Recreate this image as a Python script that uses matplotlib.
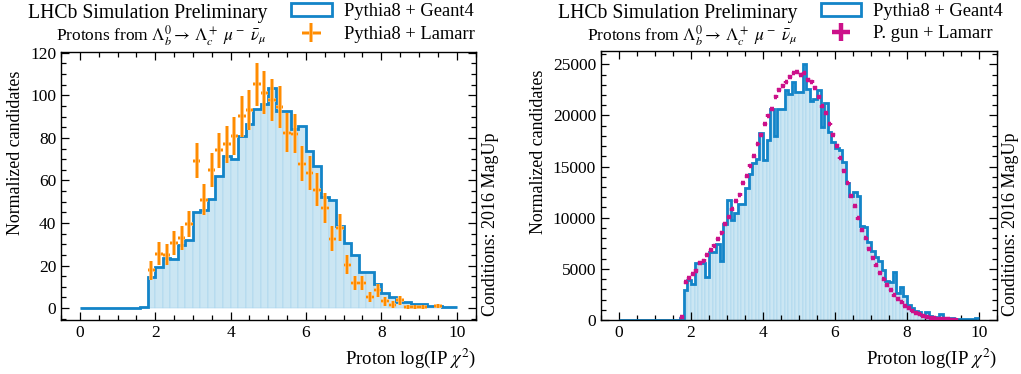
import numpy as np
import matplotlib
matplotlib.use("Agg")
import matplotlib.pyplot as plt
from matplotlib.patches import Rectangle
from matplotlib.ticker import MultipleLocator
import matplotlib.patheffects as pe

plt.rcParams['font.family'] = ['Liberation Serif', 'DejaVu Serif']
plt.rcParams['mathtext.fontset'] = 'stix'

# ---------------- data: left panel (Pythia8 + Geant4 vs Pythia8 + Lamarr) ----------------
left_range = (0.0, 10.0)
left_nbins = 50
left_geant4 = [0, 0, 0, 0, 0, 0, 0, 0,
               0.5, 14.5, 19.2, 23.4, 23.3, 29.6, 32.0, 45.2, 46.1, 51.1, 62.3,
               71.5, 69.9, 80.9, 86.7, 93.5, 96.0, 103.4, 92.5, 92.4, 84.2,
               85.8, 73.8, 67.0, 52.4, 51.0, 38.5, 30.4, 24.9, 17.0, 17.0,
               11.5, 7.0, 5.2, 3.0, 3.0, 1.9, 1.9, 1.0, 1.0, 0.3, 0.6]
lamarr_x = [1.9, 2.1, 2.3, 2.5, 2.7, 2.9, 3.1, 3.3, 3.5, 3.7, 3.9, 4.1, 4.3,
            4.5, 4.7, 4.9, 5.1, 5.3, 5.5, 5.7, 5.9, 6.1, 6.3, 6.5, 6.7, 6.9,
            7.1, 7.3, 7.5, 7.7, 7.9, 8.1, 8.3, 8.5, 8.7, 8.9, 9.1, 9.5]
lamarr_y = [17.7, 25.6, 25.1, 30.6, 33.0, 39.7, 69.2, 51.0, 64.8, 74.2, 76.9,
            80.8, 90.2, 93.0, 105.3, 101.3, 97.7, 94.6, 82.4, 82.0, 67.9, 63.5,
            55.7, 47.0, 32.6, 37.8, 20.4, 11.8, 11.8, 5.2, 8.3, 3.1, 1.6, 3.6,
            0.5, 0.5, 0.5, 1.1]
lamarr_err = [4.3, 5.3, 5.0, 5.5, 5.6, 6.1, 8.2, 7.1, 8.0, 8.2, 8.6, 8.9, 9.6,
              9.5, 10.1, 10.1, 9.9, 9.9, 9.1, 9.0, 8.2, 8.2, 7.6, 6.9, 6.0, 6.3,
              4.5, 3.4, 3.4, 2.5, 3.0, 2.0, 1.5, 2.0, 0.8, 0.8, 0.8, 1.0]

# ---------------- data: right panel (Pythia8 + Geant4 vs P. gun + Lamarr) ----------------
right_range = (0.0, 10.0)
right_nbins = 100
right_geant4 = [0] * 17 + [
    150,
    2920, 3900, 3550, 5620, 5620, 5620, 4250, 6660, 6660, 7420,
    5800, 9420, 11690, 9740, 10500, 11370, 11370, 12950, 14320, 15340,
    15750, 18250, 15600, 17600, 20620, 18020, 20620, 20620, 22470, 22140,
    23310, 22340, 22340, 25070, 22600, 21370, 21600, 22470, 18830, 21170,
    18350, 17370, 16820, 16620, 15420, 13380, 12080, 12500, 12080, 9190,
    9090, 7630, 6750, 6170, 5800, 4900, 3800, 3750, 4700, 2600,
    3200, 2300, 1500, 1200, 900, 800, 500, 750, 350, 250,
    200, 550, 200, 150, 200, 120, 120, 80, 60, 60,
    60, 150]
pgun_x = [1.75, 1.85, 1.95, 2.05, 2.15, 2.25, 2.35, 2.45, 2.55, 2.65, 2.75,
          2.85, 2.95, 3.05, 3.15, 3.25, 3.35, 3.45, 3.55, 3.65, 3.75, 3.85,
          3.95, 4.05, 4.15, 4.25, 4.35, 4.45, 4.55, 4.65, 4.75, 4.85, 4.95,
          5.05, 5.15, 5.25, 5.35, 5.45, 5.55, 5.65, 5.75, 5.85, 5.95, 6.05,
          6.15, 6.25, 6.35, 6.45, 6.55, 6.65, 6.75, 6.85, 6.95, 7.05, 7.15,
          7.25, 7.35, 7.45, 7.55, 7.65, 7.75, 7.85, 7.95, 8.05, 8.15, 8.25,
          8.35, 8.45, 8.55, 8.65, 8.75, 8.85, 8.95, 9.05, 9.15, 9.25, 9.35]
pgun_y = [260, 3670, 4120, 4450, 4810, 5590, 5810, 6360, 6820, 7270, 7920,
          8540, 9420, 10070, 10810, 11620, 12240, 13380, 14030, 15100, 16010,
          17210, 18120, 19160, 19970, 20590, 21820, 22530, 22920, 23280, 23800,
          24160, 24260, 23960, 24160, 23510, 23310, 22730, 21850, 20880, 20200,
          19160, 18120, 17050, 15850, 14610, 13410, 12080, 11100, 9940, 8770,
          7990, 6980, 6100, 5330, 4610, 3960, 3380, 2920, 2400, 2080, 1720,
          1360, 1140, 910, 710, 550, 420, 330, 230, 160, 130, 100, 70, 50, 40, 30]
pgun_err = 130

labels_left = ["Pythia8 + Geant4", "Pythia8 + Lamarr"]
labels_right = ["Pythia8 + Geant4", "P. gun + Lamarr"]
title_text = "LHCb Simulation Preliminary"
subtitle_text = r"Protons from $\Lambda_b^0 \rightarrow\, \Lambda_c^+\ \mu^-\ \bar{\nu}_\mu$"
xlabel_text = r"Proton log(IP $\chi^2$)"
ylabel_text = "Normalized candidates"
cond_text = "Conditions: 2016 MagUp"

# ---------------- style ----------------
BLUE = '#1384c8'
FILL = '#cbe6f3'
INNER = '#9fd0ec'
ORANGE = '#ff8c00'
MAGENTA = '#cc118a'
SERIF = 'Liberation Serif'

W, H = 1021, 374
fig = plt.figure(figsize=(W / 100, H / 100), dpi=100)

def px_axes(x0, y0, x1, y1):
    return fig.add_axes([x0 / W, 1 - y1 / H, (x1 - x0) / W, (y1 - y0) / H])

axL = px_axes(61, 51.5, 475.5, 320)
axR = px_axes(601, 51, 997, 320)


def draw_hist(ax, values, rng, nbins):
    edges = np.linspace(rng[0], rng[1], nbins + 1)
    vals = np.asarray(values, dtype=float)
    centers = 0.5 * (edges[:-1] + edges[1:])
    width = edges[1] - edges[0]
    ax.bar(centers, vals, width=width, color=FILL, edgecolor=INNER,
           linewidth=0.35, zorder=1)
    ax.stairs(vals, edges, baseline=None, color=BLUE, linewidth=2.0, zorder=2)


def style_axes(ax, ymajor, yminor):
    ax.xaxis.set_major_locator(MultipleLocator(2))
    ax.xaxis.set_minor_locator(MultipleLocator(0.5))
    ax.yaxis.set_major_locator(MultipleLocator(ymajor))
    ax.yaxis.set_minor_locator(MultipleLocator(yminor))
    ax.tick_params(which='both', direction='in', top=True, right=True,
                   labelsize=12.5, width=0.9, labelfontfamily=SERIF)
    ax.tick_params(which='major', length=6)
    ax.tick_params(which='minor', length=3.5)
    for s in ax.spines.values():
        s.set_linewidth(1.0)
    ax.set_xlim(-0.5, 10.5)
    ax.set_xlabel(xlabel_text, fontsize=13.5, loc='right')
    ax.set_ylabel(ylabel_text, fontsize=12.9, loc='top')
    ax.yaxis.label.set_y(0.93)
    ax.text(1.035, 0.015, cond_text, transform=ax.transAxes, rotation=90,
            rotation_mode='anchor', ha='left', va='center', fontsize=13.0)
    ax.text(0.497, 1.14, title_text, transform=ax.transAxes, ha='right',
            va='center', fontsize=14.2)
    ax.text(0.497, 1.058, subtitle_text, transform=ax.transAxes, ha='right',
            va='center', fontsize=12.5)


# Left panel
draw_hist(axL, left_geant4, left_range, left_nbins)
ebL = axL.errorbar(lamarr_x, lamarr_y, xerr=0.1, yerr=lamarr_err, fmt='none',
                   ecolor=ORANGE, elinewidth=1.6, capsize=0, zorder=3)
for c in ebL[2]:
    c.set_path_effects([pe.Stroke(linewidth=2.6, foreground='#ffc27a'), pe.Normal()])
axL.set_ylim(-5.6, 120.6)
style_axes(axL, 20, 5)

# Right panel
draw_hist(axR, right_geant4, right_range, right_nbins)
ebR = axR.errorbar(pgun_x, pgun_y, xerr=0.05, yerr=pgun_err, fmt='none',
                   ecolor=MAGENTA, elinewidth=3.2, capsize=0, zorder=3)
axR.set_ylim(0, 26300)
style_axes(axR, 5000, 1000)

# Legends
for ax, labs, eb in ((axL, labels_left, ebL), (axR, labels_right, ebR)):
    box = Rectangle((0, 0), 1, 1, facecolor='white', edgecolor=BLUE, linewidth=2.0)
    ax.legend([box, eb], labs, loc='upper left',
              bbox_to_anchor=(0.555, 1.18), bbox_transform=ax.transAxes,
              frameon=False, fontsize=13.3, borderpad=0, borderaxespad=0,
              handlelength=2.2, handletextpad=0.65, labelspacing=0.32)

fig.savefig("out.png", dpi=100)
